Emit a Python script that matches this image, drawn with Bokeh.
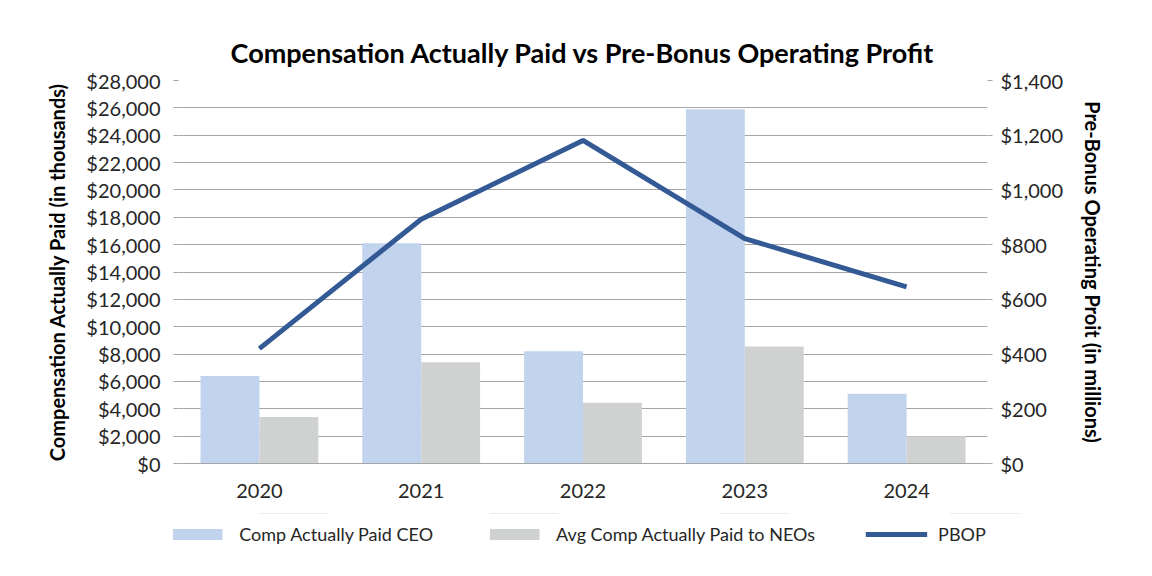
from bokeh.plotting import figure
from bokeh.layouts import column
from bokeh.models import (ColumnDataSource, Range1d, LinearAxis, NumeralTickFormatter,
                          FactorRange, Legend, LegendItem, SingleIntervalTicker)
from bokeh.transform import dodge
from bokeh.embed import file_html
from bokeh.resources import INLINE

years = ["2020", "2021", "2022", "2023", "2024"]
ceo_cap = [6400, 16100, 8200, 25900, 5100]
neo_cap = [3400, 7400, 4450, 8550, 2000]
pbop = [420, 893, 1181, 822, 646]
series_names = ["Comp Actually Paid CEO", "Avg Comp Actually Paid to NEOs", "PBOP"]

src = ColumnDataSource(dict(year=years, ceo=ceo_cap, neo=neo_cap, pbop=pbop))

FONT = "Lato"
TXT = "#262626"
C_CEO = "#C2D3ED"
C_NEO = "#D0D2D1"
C_LINE = "#335A95"

p = figure(frame_width=809, frame_height=383, x_range=FactorRange(*years), y_range=Range1d(0, 28000),
           output_backend="svg", toolbar_location=None,
           min_border_left=178, min_border_right=165, min_border_top=80, min_border_bottom=50)
p.outline_line_color = None
p.background_fill_color = "white"
p.border_fill_color = "white"

p.title.text = "Compensation Actually Paid vs Pre-Bonus Operating Profit"
p.title.align = "center"
p.title.text_font = FONT
p.title.text_font_size = "27px"
p.title.text_font_style = "bold"
p.title.text_color = "black"
p.title.standoff = 24

p.extra_y_ranges = {"pbop": Range1d(0, 1400)}

bw = 0.364
p.vbar(x=dodge("year", -0.182, range=p.x_range), top="ceo", width=bw, source=src,
       fill_color=C_CEO, line_color=None)
p.vbar(x=dodge("year", 0.182, range=p.x_range), top="neo", width=bw, source=src,
       fill_color=C_NEO, line_color=None)
p.line(x="year", y="pbop", y_range_name="pbop", source=src,
       line_color=C_LINE, line_width=5)

# left axis
ya = p.yaxis[0]
ya.ticker = SingleIntervalTicker(interval=2000)
ya.formatter = NumeralTickFormatter(format="$0,0")
ya.axis_label = "Compensation Actually Paid (in thousands)"

# right axis
ra = LinearAxis(y_range_name="pbop", ticker=SingleIntervalTicker(interval=200),
                formatter=NumeralTickFormatter(format="$0,0"),
                axis_label="Pre-Bonus Operating Proit (in millions)")
p.add_layout(ra, "right")

for ax in (ya, ra):
    ax.axis_line_color = None
    ax.major_tick_line_color = "#A6A6A6"
    ax.major_tick_out = 5
    ax.major_tick_in = 0
    ax.minor_tick_line_color = None
    ax.major_label_text_font = FONT
    ax.major_label_text_font_size = "20px"
    ax.major_label_text_color = TXT
    ax.axis_label_text_font = FONT
    ax.axis_label_text_font_size = "20px"
    ax.axis_label_text_font_style = "bold"
    ax.axis_label_text_color = "black"
ya.major_label_standoff = 13
ya.axis_label_standoff = 14
ra.major_label_standoff = 8
ra.axis_label_standoff = 15

xa = p.xaxis[0]
xa.axis_line_color = "#A6A6A6"
xa.major_tick_line_color = None
xa.minor_tick_line_color = None
xa.major_label_text_font = FONT
xa.major_label_text_font_size = "20px"
xa.major_label_text_color = TXT
xa.major_label_standoff = 14

p.xgrid.grid_line_color = None
p.ygrid.grid_line_color = "#A6A6A6"
p.ygrid.grid_line_width = 1

# legend strip: a second figure below the category axis; the series are drawn
# there too but outside its visible y range, so only the legend shows
lg = figure(frame_width=1152, frame_height=42, x_range=FactorRange(*years), y_range=Range1d(-2, -1),
            output_backend="svg", toolbar_location=None, x_axis_type=None, y_axis_type=None,
            min_border_left=0, min_border_right=0, min_border_top=0, min_border_bottom=0)
lg.outline_line_color = None
lg.xgrid.grid_line_color = None
lg.ygrid.grid_line_color = None
lg.border_fill_color = "white"
k1 = lg.vbar(x="year", top="ceo", width=0.3, source=src, fill_color=C_CEO, line_color=None)
k2 = lg.vbar(x="year", top="neo", width=0.3, source=src, fill_color=C_NEO, line_color=None)
k3 = lg.line(x="year", y="pbop", source=src, line_color=C_LINE, line_width=5)

legend = Legend(items=[LegendItem(label=series_names[0], renderers=[k1]),
                       LegendItem(label=series_names[1], renderers=[k2]),
                       LegendItem(label=series_names[2], renderers=[k3])],
                orientation="horizontal", location="center")
legend.glyph_width = 62
legend.glyph_height = 14
legend.label_standoff = 11
legend.spacing = 50
legend.padding = 4
legend.margin = 0
legend.label_text_font = FONT
legend.label_text_font_size = "18px"
legend.label_text_color = TXT
legend.border_line_color = None
legend.background_fill_alpha = 0
lg.add_layout(legend, "center")

layout = column(p, lg, spacing=0)
open("out.html", "w").write(file_html(layout, INLINE))
